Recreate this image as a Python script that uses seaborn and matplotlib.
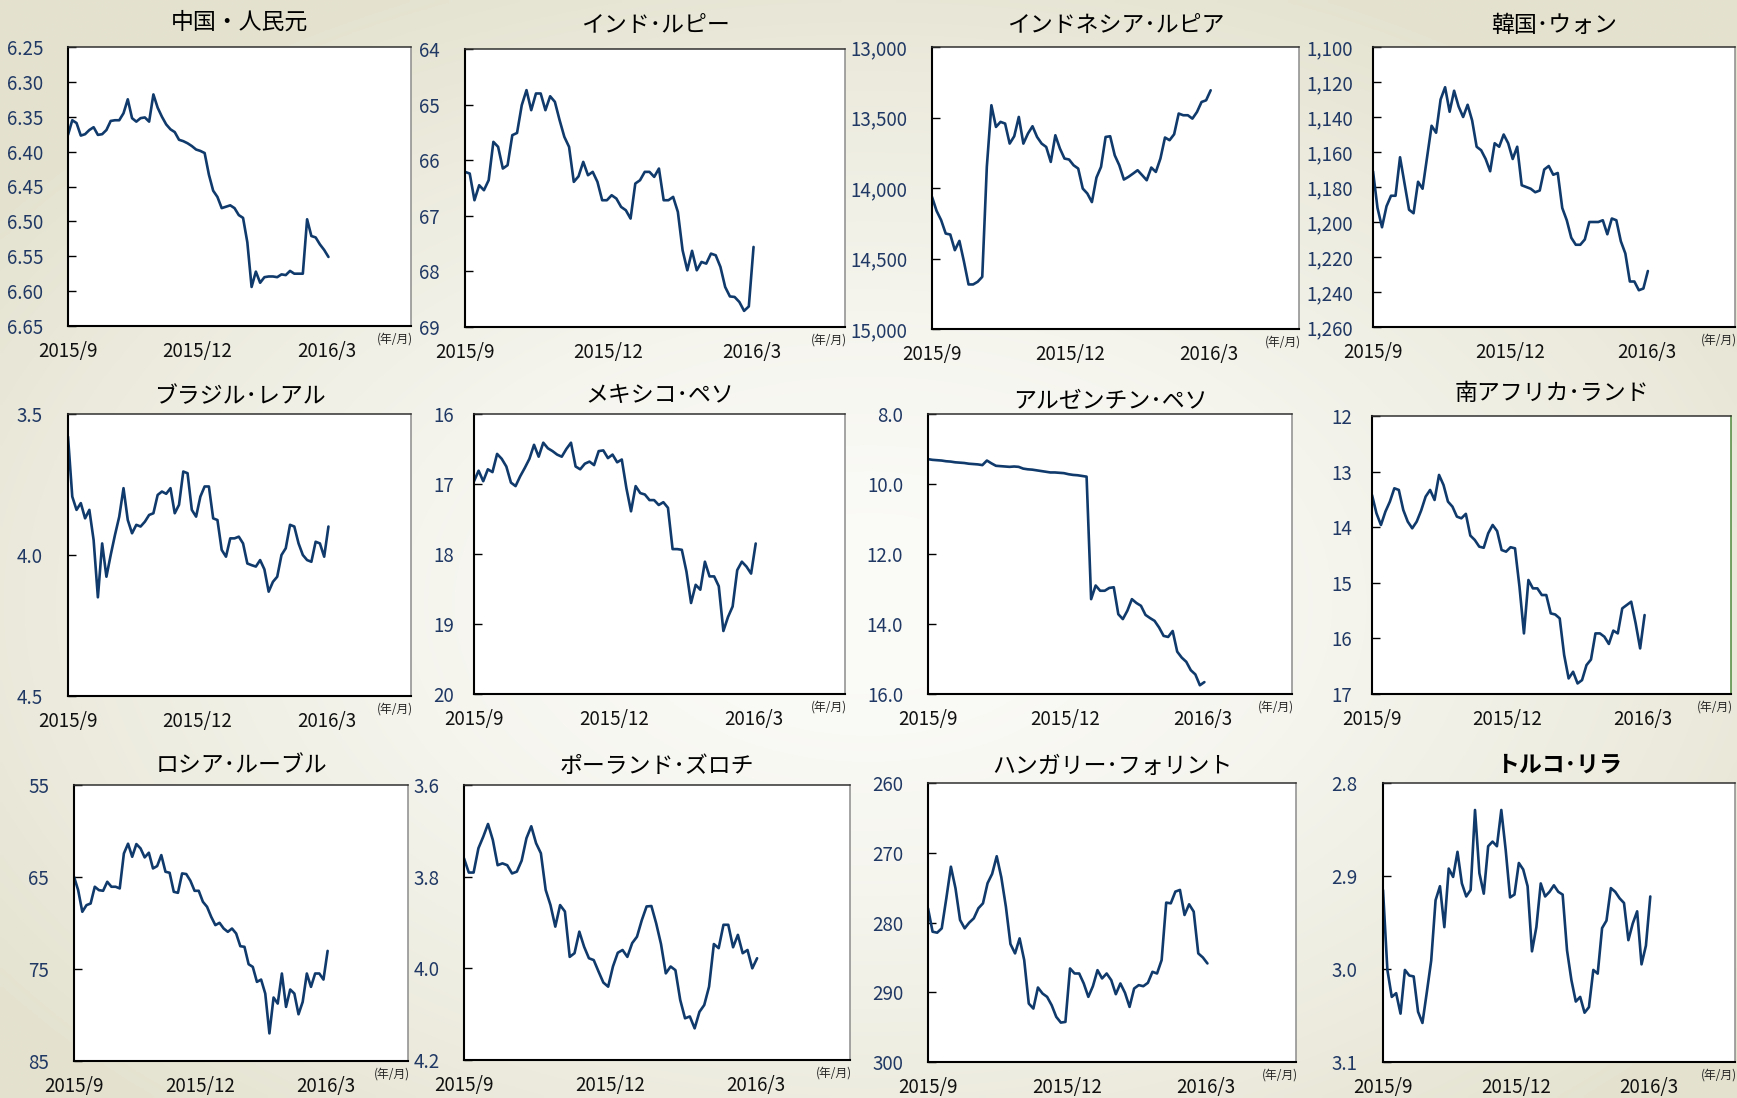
import numpy as np
import pandas as pd
import seaborn as sns
import matplotlib.pyplot as plt

# 新興国通貨の対ドル相場（2015/9～2016/3、3日おきに読み取り）

W, H = 1737, 1098

dates = pd.date_range('2015-09-01', periods=62, freq='3D')
x_ticks = pd.to_datetime(['2015-09-01', '2015-12-01', '2016-03-01'])
x_labels = ['2015/9', '2015/12', '2016/3']
x_end = pd.Timestamp('2016-04-29')

cny = [6.376, 6.355, 6.359, 6.377, 6.375, 6.369, 6.365, 6.376, 6.375, 6.369,
       6.356, 6.355, 6.355, 6.345, 6.325, 6.352, 6.357, 6.352, 6.351, 6.357,
       6.318, 6.337, 6.350, 6.361, 6.368, 6.372, 6.383, 6.385, 6.388, 6.392,
       6.397, 6.399, 6.402, 6.433, 6.456, 6.465, 6.481, 6.479, 6.477, 6.481,
       6.491, 6.495, 6.530, 6.594, 6.572, 6.588, 6.580, 6.579, 6.579, 6.580,
       6.576, 6.577, 6.571, 6.575, 6.575, 6.575, 6.497, 6.521, 6.523, 6.533,
       6.541, 6.551]

inr = [66.21, 66.24, 66.72, 66.45, 66.54, 66.36, 65.67, 65.76, 66.15, 66.09,
       65.55, 65.51, 65.01, 64.74, 65.10, 64.80, 64.80, 65.10, 64.85, 64.95,
       65.28, 65.58, 65.76, 66.39, 66.29, 66.03, 66.27, 66.21, 66.39, 66.72,
       66.72, 66.63, 66.69, 66.84, 66.90, 67.05, 66.42, 66.36, 66.21, 66.21,
       66.30, 66.15, 66.72, 66.72, 66.66, 66.93, 67.62, 67.98, 67.63, 67.98,
       67.83, 67.86, 67.68, 67.71, 67.92, 68.28, 68.45, 68.46, 68.55, 68.71,
       68.63, 67.56]

idr = [14063, 14162, 14228, 14323, 14330, 14441, 14375, 14523, 14684, 14684,
       14665, 14630, 13850, 13413, 13567, 13531, 13543, 13685, 13633, 13496,
       13685, 13614, 13562, 13638, 13685, 13709, 13815, 13626, 13720, 13791,
       13798, 13839, 13862, 14004, 14039, 14100, 13926, 13850, 13638, 13633,
       13768, 13839, 13940, 13921, 13898, 13874, 13909, 13945, 13855, 13886,
       13791, 13642, 13661, 13619, 13472, 13484, 13484, 13508, 13461, 13390,
       13378, 13307]

krw = [1171, 1192, 1203, 1191, 1185, 1185, 1163, 1178, 1193, 1195,
       1177, 1181, 1163, 1145, 1149, 1130, 1123, 1137, 1125, 1134,
       1140, 1133, 1142, 1157, 1159, 1164, 1171, 1155, 1157, 1150,
       1155, 1164, 1157, 1179, 1180, 1181, 1183, 1182, 1170, 1168,
       1173, 1172, 1192, 1199, 1209, 1213, 1213, 1210, 1200, 1200,
       1200, 1199, 1207, 1198, 1199, 1211, 1218, 1234, 1234, 1239,
       1238, 1228]

brl = [3.58, 3.793, 3.840, 3.816, 3.870, 3.840, 3.947, 4.150, 3.959, 4.077,
       4.000, 3.929, 3.864, 3.763, 3.876, 3.923, 3.893, 3.899, 3.882, 3.858,
       3.852, 3.787, 3.775, 3.783, 3.763, 3.852, 3.822, 3.704, 3.710, 3.840,
       3.864, 3.793, 3.757, 3.757, 3.870, 3.876, 3.982, 4.006, 3.941, 3.941,
       3.935, 3.959, 4.030, 4.036, 4.041, 4.018, 4.051, 4.130, 4.095, 4.077,
       4.000, 3.976, 3.893, 3.899, 3.959, 4.000, 4.018, 4.024, 3.953, 3.959,
       4.006, 3.899]

mxn = [16.96, 16.81, 16.96, 16.79, 16.83, 16.57, 16.64, 16.75, 16.98, 17.03,
       16.89, 16.77, 16.64, 16.44, 16.61, 16.41, 16.49, 16.53, 16.58, 16.61,
       16.50, 16.41, 16.75, 16.79, 16.71, 16.68, 16.73, 16.53, 16.52, 16.63,
       16.58, 16.69, 16.65, 17.06, 17.39, 17.03, 17.13, 17.15, 17.23, 17.23,
       17.30, 17.26, 17.34, 17.93, 17.93, 17.94, 18.25, 18.70, 18.44, 18.51,
       18.11, 18.32, 18.32, 18.46, 19.10, 18.90, 18.75, 18.23, 18.11, 18.18,
       18.28, 17.85]

ars = [9.29, 9.31, 9.32, 9.33, 9.35, 9.36, 9.38, 9.39, 9.40, 9.42,
       9.43, 9.44, 9.46, 9.33, 9.41, 9.48, 9.49, 9.50, 9.51, 9.50,
       9.51, 9.56, 9.58, 9.59, 9.61, 9.63, 9.65, 9.67, 9.67, 9.68,
       9.69, 9.72, 9.74, 9.75, 9.77, 9.79, 13.29, 12.90, 13.05, 13.05,
       12.97, 12.95, 13.72, 13.86, 13.62, 13.29, 13.40, 13.48, 13.74, 13.83,
       13.91, 14.10, 14.34, 14.37, 14.20, 14.79, 14.96, 15.08, 15.32, 15.44,
       15.75, 15.66]

zar = [13.42, 13.75, 13.96, 13.72, 13.54, 13.30, 13.33, 13.69, 13.90, 14.02,
       13.90, 13.70, 13.45, 13.33, 13.51, 13.06, 13.24, 13.54, 13.63, 13.81,
       13.84, 13.76, 14.15, 14.23, 14.35, 14.37, 14.11, 13.96, 14.07, 14.41,
       14.44, 14.36, 14.38, 15.07, 15.91, 14.95, 15.10, 15.10, 15.22, 15.22,
       15.55, 15.57, 15.64, 16.30, 16.72, 16.60, 16.81, 16.75, 16.48, 16.38,
       15.91, 15.91, 15.97, 16.10, 15.86, 15.91, 15.46, 15.40, 15.34, 15.73,
       16.18, 15.58]

rub = [64.97, 66.43, 68.78, 68.06, 67.88, 66.06, 66.43, 66.50, 65.52, 66.06,
       66.06, 66.24, 62.44, 61.38, 62.80, 61.42, 61.89, 62.87, 62.36, 64.07,
       63.81, 62.62, 64.43, 64.54, 66.61, 66.72, 64.61, 64.68, 65.41, 66.50,
       66.50, 67.69, 68.24, 69.33, 70.23, 69.98, 70.60, 70.96, 70.60, 71.14,
       72.52, 72.59, 74.48, 74.77, 76.40, 76.15, 77.67, 82.00, 78.10, 78.76,
       75.49, 79.12, 77.23, 77.67, 79.92, 78.58, 75.49, 76.94, 75.49, 75.49,
       76.15, 73.03]

pln = [3.760, 3.791, 3.791, 3.738, 3.713, 3.685, 3.720, 3.775, 3.771, 3.775,
       3.793, 3.789, 3.765, 3.716, 3.690, 3.727, 3.749, 3.829, 3.862, 3.909,
       3.862, 3.876, 3.975, 3.967, 3.920, 3.953, 3.978, 3.982, 4.007, 4.031,
       4.040, 3.996, 3.966, 3.960, 3.975, 3.945, 3.931, 3.895, 3.865, 3.864,
       3.902, 3.947, 4.011, 3.996, 4.004, 4.069, 4.109, 4.105, 4.131, 4.095,
       4.080, 4.040, 3.947, 3.956, 3.905, 3.905, 3.954, 3.927, 3.967, 3.960,
       4.000, 3.978]

huf = [277.96, 281.32, 281.46, 280.84, 276.53, 272.00, 275.09, 279.64, 280.84, 280.02,
       279.40, 277.96, 277.25, 274.37, 273.03, 270.50, 273.51, 277.72, 283.09, 284.43,
       282.28, 285.39, 291.62, 292.34, 289.32, 290.18, 290.66, 291.86, 293.53, 294.35,
       294.25, 286.59, 287.31, 287.31, 288.74, 290.66, 289.13, 286.83, 288.02, 287.31,
       288.26, 290.28, 288.74, 290.08, 292.10, 289.46, 288.98, 289.13, 288.65, 287.07,
       287.31, 285.39, 277.15, 277.25, 275.57, 275.33, 278.92, 277.39, 278.44, 284.43,
       285.01, 285.87]

try_ = [2.915, 3.001, 3.030, 3.026, 3.048, 3.001, 3.007, 3.008, 3.046, 3.058,
        3.025, 2.991, 2.926, 2.911, 2.955, 2.892, 2.901, 2.874, 2.908, 2.922,
        2.915, 2.829, 2.897, 2.919, 2.868, 2.863, 2.868, 2.829, 2.872, 2.923,
        2.920, 2.886, 2.893, 2.911, 2.981, 2.955, 2.908, 2.922, 2.917, 2.910,
        2.917, 2.920, 2.980, 3.012, 3.035, 3.030, 3.047, 3.041, 3.001, 3.005,
        2.956, 2.948, 2.913, 2.917, 2.924, 2.929, 2.969, 2.951, 2.938, 2.995,
        2.975, 2.922]

titles = ['中国・人民元', 'インド･ルピー', 'インドネシア･ルピア', '韓国･ウォン',
          'ブラジル･レアル', 'メキシコ･ペソ', 'アルゼンチン･ペソ', '南アフリカ･ランド',
          'ロシア･ルーブル', 'ポーランド･ズロチ', 'ハンガリー･フォリント', 'トルコ･リラ']
series = [cny, inr, idr, krw, brl, mxn, ars, zar, rub, pln, huf, try_]
yticks = [
    [6.25, 6.30, 6.35, 6.40, 6.45, 6.50, 6.55, 6.60, 6.65],
    [64, 65, 66, 67, 68, 69],
    [13000, 13500, 14000, 14500, 15000],
    [1100, 1120, 1140, 1160, 1180, 1200, 1220, 1240, 1260],
    [3.5, 4.0, 4.5],
    [16, 17, 18, 19, 20],
    [8.0, 10.0, 12.0, 14.0, 16.0],
    [12, 13, 14, 15, 16, 17],
    [55, 65, 75, 85],
    [3.6, 3.8, 4.0, 4.2],
    [260, 270, 280, 290, 300],
    [2.8, 2.9, 3.0, 3.1],
]
yfmt = ['{:.2f}', '{:.0f}', '{:,.0f}', '{:,.0f}',
        '{:.1f}', '{:.0f}', '{:.1f}', '{:.0f}',
        '{:.0f}', '{:.1f}', '{:.0f}', '{:.1f}']

# 各パネルの枠（ピクセル: 左, 上, 右, 下）とタイトル・目盛ラベルの余白
boxes = [
    (68, 47, 411, 326), (465, 49, 845, 327), (932, 47, 1299, 329), (1373, 47, 1735, 327),
    (68, 414, 411, 696), (474, 414, 845, 694), (928, 414, 1292, 694), (1372, 416, 1731, 694),
    (74, 785, 408, 1061), (464, 785, 850, 1060), (928, 783, 1296, 1062), (1383, 783, 1735, 1062),
]
title_pad = [13, 12, 11, 11, 8, 9, 4, 11.5, 9, 9, 7, 8]
ylab_pad = [18, 18, 18, 14.5, 18, 14.5, 18, 14.5, 18, 17.5, 17.5, 18.5]

LINE = '#0f3a6b'
BLUE = '#1f3864'


def px_rect(l, t, r, b):
    return [l / W, 1 - b / H, (r - l) / W, (b - t) / H]


def draw_background(fig):
    bg = fig.add_axes([0, 0, 1, 1], zorder=-10)
    yy, xx = np.mgrid[0:1:220j, 0:1:350j]
    r = np.clip(np.sqrt(((xx - 0.5) / 0.62) ** 2 + ((yy - 0.55) / 0.62) ** 2), 0, 1) ** 1.6
    inner = np.array([251, 251, 248]) / 255
    outer = np.array([228, 226, 207]) / 255
    img = inner[None, None, :] * (1 - r[..., None]) + outer[None, None, :] * r[..., None]
    bg.imshow(img, extent=[0, 1, 0, 1], aspect='auto', interpolation='bilinear')
    bg.set_axis_off()


def draw_panel(fig, k):
    ax = fig.add_axes(px_rect(*boxes[k]))
    ax.set_facecolor('white')
    df = pd.DataFrame({'date': dates, 'rate': series[k]})
    sns.lineplot(data=df, x='date', y='rate', ax=ax, color=LINE, linewidth=1.9,
                 estimator=None)

    yt = yticks[k]
    ax.set_ylim(yt[-1], yt[0])
    ax.set_yticks(yt)
    ax.set_yticklabels([yfmt[k].format(v) for v in yt])
    ax.set_xlim(dates[0], x_end)
    ax.set_xticks(x_ticks)
    ax.set_xticklabels(x_labels)
    ax.set_xlabel('')
    ax.set_ylabel('')

    ax.tick_params(axis='y', direction='in', length=6, width=1, color='black',
                   pad=ylab_pad[k], labelsize=13.5, labelcolor=BLUE)
    ax.tick_params(axis='x', length=0, pad=11, labelsize=13.5, labelcolor='#111111')

    for side in ['left', 'bottom']:
        ax.spines[side].set_color('black')
        ax.spines[side].set_linewidth(1.5)
    ax.spines['top'].set_color('#303030')
    ax.spines['top'].set_linewidth(1.1)
    ax.spines['right'].set_color('#4e8a3c' if k == 7 else '#8c8c8c')
    ax.spines['right'].set_linewidth(1.1)

    ax.set_title(titles[k], fontsize=16.5, pad=title_pad[k], color='black',
                 fontweight='bold' if k == 11 else 'normal')
    ax.annotate('(年/月)', xy=(1, 0), xycoords='axes fraction',
                xytext=(-34, -13), textcoords='offset pixels',
                ha='left', va='center', fontsize=8.5, color='#222222')
    return ax


def main():
    sns.set_theme(style='ticks')
    plt.rcParams['font.family'] = ['Noto Sans CJK JP', 'DejaVu Sans']

    fig = plt.figure(figsize=(W / 100, H / 100), dpi=100)
    draw_background(fig)
    for k in range(len(series)):
        draw_panel(fig, k)
    fig.savefig('out.png', dpi=100)
    plt.close(fig)


if __name__ == '__main__':
    main()
